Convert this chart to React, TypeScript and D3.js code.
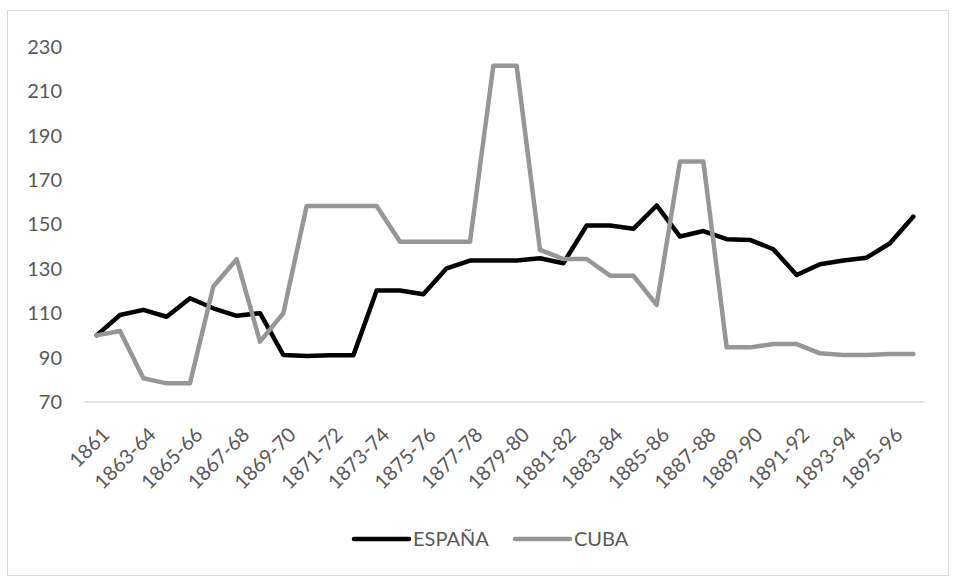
import { useEffect, useRef } from 'react';
import * as d3 from 'd3';

const W = 956
const H = 581
const plot = { left: 85, right: 925, top: 46.7, bottom: 402 }

const categories = [
  '1861', '1862-63', '1863-64', '1864-65', '1865-66', '1866-67', '1867-68', '1868-69', '1869-70',
  '1870-71', '1871-72', '1872-73', '1873-74', '1874-75', '1875-76', '1876-77', '1877-78', '1878-79',
  '1879-80', '1880-81', '1881-82', '1882-83', '1883-84', '1884-85', '1885-86', '1886-87', '1887-88',
  '1888-89', '1889-90', '1890-91', '1891-92', '1892-93', '1893-94', '1894-95', '1895-96', '1896-97',
]

const espana = [
  100, 109.2, 111.5, 108.4, 116.7, 112.2, 108.8, 110, 91.2, 90.7, 91, 91,
  120.2, 120.2, 118.5, 130.2, 133.7, 133.7, 133.7, 134.7, 132.5, 149.5, 149.5, 148,
  158.5, 144.5, 147, 143.3, 143, 138.8, 127.2, 132, 133.7, 135, 141.5, 153.5,
]

const cuba = [
  100, 102, 80.7, 78.4, 78.4, 122, 134.3, 97.2, 110, 158.3, 158.3, 158.3,
  158.3, 142.2, 142.2, 142.2, 142.2, 221.4, 221.4, 138.5, 134.4, 134.4, 126.9, 126.9,
  113.7, 178.3, 178.3, 94.6, 94.6, 96.1, 96.1, 91.9, 91.2, 91.2, 91.6, 91.6,
]

const yTicks = [70, 90, 110, 130, 150, 170, 190, 210, 230]

const seriesNames = ['ESPAÑA', 'CUBA']
const seriesColors = ['#000000', '#969696']

const font = 'Lato, "Open Sans", sans-serif'
const textColor = '#595959'

const App = () => {
  const d3svg = useRef<SVGSVGElement>(null)

  useEffect(() => {
    if (!d3svg.current) return
    const svg = d3.select(d3svg.current)
    svg.selectAll('*').remove()

    // chart frame
    svg.append('rect')
      .attr('x', 7.5).attr('y', 10.5)
      .attr('width', 941).attr('height', 565)
      .attr('fill', '#fff')
      .attr('stroke', '#d9d9d9')

    const xScale = d3.scaleBand()
      .domain(categories)
      .range([plot.left, plot.right])
    const xc = (c: string) => (xScale(c) as number) + xScale.bandwidth() / 2

    const yScale = d3.scaleLinear()
      .domain([70, 230])
      .range([plot.bottom, plot.top])

    // y labels
    svg.append('g')
      .selectAll('text')
      .data(yTicks)
      .enter()
      .append('text')
      .attr('x', 62)
      .attr('y', d => yScale(d))
      .attr('dy', '0.35em')
      .attr('text-anchor', 'end')
      .style('font-family', font)
      .style('font-size', '20px')
      .style('fill', textColor)
      .text(d => d)

    // x axis line
    svg.append('line')
      .attr('x1', plot.left).attr('x2', plot.right)
      .attr('y1', plot.bottom).attr('y2', plot.bottom)
      .attr('stroke', '#d9d9d9')
      .attr('stroke-width', 1.3)

    // x labels, every other category
    svg.append('g')
      .selectAll('text')
      .data(categories.filter((_, i) => i % 2 === 0))
      .enter()
      .append('text')
      .attr('transform', d => `translate(${xc(d) + 9},${plot.bottom + 29}) rotate(-45)`)
      .attr('text-anchor', 'end')
      .attr('dy', '0.35em')
      .style('font-family', font)
      .style('font-size', '20px')
      .style('fill', textColor)
      .text(d => d)

    // lines
    const line = d3.line<number>()
      .x((_, i) => xc(categories[i]))
      .y(d => yScale(d))

    ;[espana, cuba].forEach((values, k) => {
      svg.append('path')
        .datum(values)
        .attr('d', line)
        .attr('fill', 'none')
        .attr('stroke', seriesColors[k])
        .attr('stroke-width', 4.5)
        .attr('stroke-linejoin', 'round')
        .attr('stroke-linecap', 'round')
    })

    // legend
    const legendX = [354, 515]
    const legend = svg.append('g')
    seriesNames.forEach((name, k) => {
      legend.append('line')
        .attr('x1', legendX[k]).attr('x2', legendX[k] + 55)
        .attr('y1', 539).attr('y2', 539)
        .attr('stroke', seriesColors[k])
        .attr('stroke-width', 4.5)
        .attr('stroke-linecap', 'round')
      legend.append('text')
        .attr('x', legendX[k] + 59)
        .attr('y', 539)
        .attr('dy', '0.35em')
        .style('font-family', font)
        .style('font-size', '20px')
        .style('fill', textColor)
        .text(name)
    })
  }, [])

  return (
    <svg
      width={W}
      height={H}
      ref={d3svg}
      style={{ position: 'absolute', left: 0, top: 0, background: '#fff' }}
    ></svg>
  )
}

export default App
